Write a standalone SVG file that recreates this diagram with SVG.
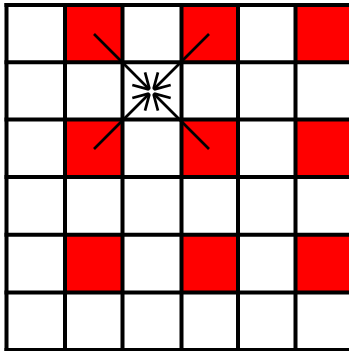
<svg xmlns="http://www.w3.org/2000/svg" width="349" height="351" viewBox="0 0 349 351">
  <style>
    .red { fill: #ff0000; }
    .grid line { stroke: #000; stroke-width: 4; }
    .arrow { stroke: #000; stroke-width: 2.7; fill: none; }
  </style>
  <defs>
    <marker id="ah" markerUnits="userSpaceOnUse" viewBox="-20 -12 24 24" markerWidth="24" markerHeight="24" refX="0" refY="0" orient="auto" overflow="visible">
      <path d="M -15.6,-9 L -1,-0.6 M -15.6,9 L -1,0.6" stroke="#000" stroke-width="2.7" fill="none"/>
    </marker>
  </defs>
  <rect x="0" y="0" width="349" height="351" fill="#fff"/>
  <g id="cells">
    <rect class="red" x="65" y="5" width="57.5" height="57.3"/>
    <rect class="red" x="181.5" y="5" width="56.5" height="57.3"/>
    <rect class="red" x="295.5" y="5" width="60" height="57.3"/>
    <rect class="red" x="65" y="119.5" width="57.5" height="57.5"/>
    <rect class="red" x="181.5" y="119.5" width="56.5" height="57.5"/>
    <rect class="red" x="295.5" y="119.5" width="60" height="57.5"/>
    <rect class="red" x="65" y="234.8" width="57.5" height="57.8"/>
    <rect class="red" x="181.5" y="234.8" width="56.5" height="57.8"/>
    <rect class="red" x="295.5" y="234.8" width="60" height="57.8"/>
  </g>
  <g class="grid" id="grid">
    <line x1="6.5" y1="3" x2="6.5" y2="352"/>
    <line x1="65" y1="3" x2="65" y2="352"/>
    <line x1="122.5" y1="3" x2="122.5" y2="352"/>
    <line x1="181.5" y1="3" x2="181.5" y2="352"/>
    <line x1="238" y1="3" x2="238" y2="352"/>
    <line x1="295.5" y1="3" x2="295.5" y2="352"/>
    <line x1="4.5" y1="5" x2="352" y2="5"/>
    <line x1="4.5" y1="62.3" x2="352" y2="62.3"/>
    <line x1="4.5" y1="119.5" x2="352" y2="119.5"/>
    <line x1="4.5" y1="177" x2="352" y2="177"/>
    <line x1="4.5" y1="234.8" x2="352" y2="234.8"/>
    <line x1="4.5" y1="292.6" x2="352" y2="292.6"/>
    <line x1="4.5" y1="350" x2="352" y2="350"/>
  </g>
  <g id="connectors">
    <line class="arrow" x1="94" y1="34" x2="149.7" y2="89.7" marker-end="url(#ah)"/>
    <line class="arrow" x1="209" y1="34" x2="153.3" y2="89.7" marker-end="url(#ah)"/>
    <line class="arrow" x1="94" y1="149" x2="149.7" y2="93.3" marker-end="url(#ah)"/>
    <line class="arrow" x1="209" y1="149" x2="153.3" y2="93.3" marker-end="url(#ah)"/>
  </g>
</svg>
